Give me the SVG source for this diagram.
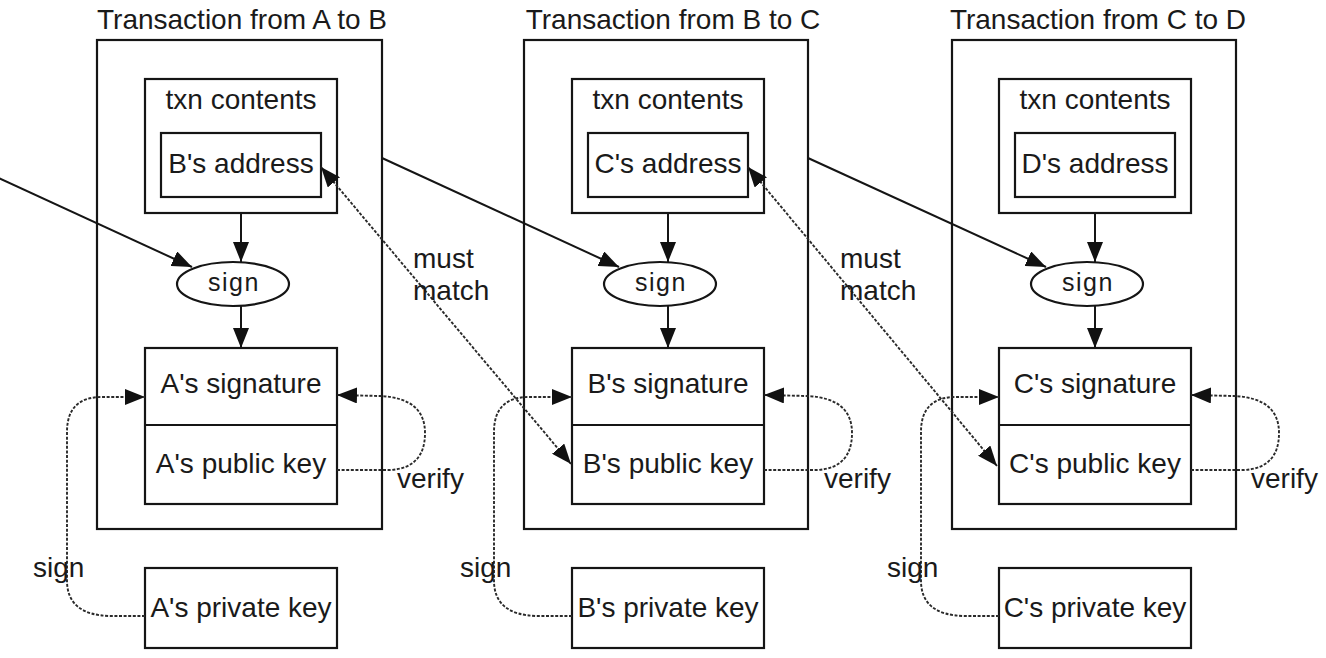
<svg xmlns="http://www.w3.org/2000/svg" width="1326" height="658" viewBox="0 0 1326 658">
<style>
.box{fill:none;stroke:#151515;stroke-width:2.2}
.fbox{fill:#fff;stroke:#151515;stroke-width:2.2}
.t{font-family:"Liberation Sans",Arial,sans-serif;font-size:28px;fill:#1a1a1a}
.m{text-anchor:middle}
.s{font-family:"Liberation Sans",Arial,sans-serif;font-size:25px;fill:#1a1a1a;letter-spacing:1.5px}
.solid{fill:none;stroke:#151515;stroke-width:2;marker-end:url(#ah)}
.dot{fill:none;stroke:#2a2a2a;stroke-width:1.9;stroke-dasharray:3 1.6;marker-end:url(#ah)}
.dot2{fill:none;stroke:#2a2a2a;stroke-width:1.9;stroke-dasharray:3 1.6;marker-end:url(#ah);marker-start:url(#ah)}
</style>
<defs>
<marker id="ah" markerUnits="userSpaceOnUse" markerWidth="20" markerHeight="16" viewBox="0 0 20 16" refX="20" refY="8" orient="auto-start-reverse">
<path d="M0,0 L20,8 L0,16 z" fill="#111"/>
</marker>
</defs>
<rect width="1326" height="658" fill="#fff"/>

<g id="titles">
<text class="t m" x="242" y="29">Transaction from A to B</text>
<text class="t m" x="673" y="29">Transaction from B to C</text>
<text class="t m" x="1098" y="29">Transaction from C to D</text>
</g>

<g id="col1">
<g id="tx-ab"><rect class="box" x="97" y="40" width="285" height="489"/></g>
<g id="txn-ab"><rect class="box" x="145" y="79" width="192" height="134"/><text class="t m" x="241" y="109">txn contents</text></g>
<g id="addr-b"><rect class="box" x="161" y="133" width="160" height="64"/><text class="t m" x="241" y="173">B's address</text></g>
<g id="sign-ab"><ellipse class="fbox" cx="233" cy="284" rx="56" ry="22"/><text class="s m" x="234" y="291">sign</text></g>
<g id="sig-a"><rect class="box" x="145" y="348" width="192" height="156"/><line x1="145" y1="425" x2="337" y2="425" stroke="#151515" stroke-width="2.2"/><text class="t m" x="241" y="393">A's signature</text><text class="t m" x="241" y="473">A's public key</text></g>
<g id="priv-a"><rect class="box" x="145" y="568" width="192" height="80"/><text class="t m" x="241" y="617">A's private key</text></g>
</g>

<g id="col2" transform="translate(427,0)">
<g id="tx-bc"><rect class="box" x="97" y="40" width="284" height="489"/></g>
<g id="txn-bc"><rect class="box" x="145" y="79" width="192" height="134"/><text class="t m" x="241" y="109">txn contents</text></g>
<g id="addr-c"><rect class="box" x="161" y="133" width="160" height="64"/><text class="t m" x="241" y="173">C's address</text></g>
<g id="sign-bc"><ellipse class="fbox" cx="233" cy="284" rx="56" ry="22"/><text class="s m" x="234" y="291">sign</text></g>
<g id="sig-b"><rect class="box" x="145" y="348" width="192" height="156"/><line x1="145" y1="425" x2="337" y2="425" stroke="#151515" stroke-width="2.2"/><text class="t m" x="241" y="393">B's signature</text><text class="t m" x="241" y="473">B's public key</text></g>
<g id="priv-b"><rect class="box" x="145" y="568" width="192" height="80"/><text class="t m" x="241" y="617">B's private key</text></g>
</g>

<g id="col3" transform="translate(854,0)">
<g id="tx-cd"><rect class="box" x="98" y="40" width="284" height="489"/></g>
<g id="txn-cd"><rect class="box" x="145" y="79" width="192" height="134"/><text class="t m" x="241" y="109">txn contents</text></g>
<g id="addr-d"><rect class="box" x="161" y="133" width="160" height="64"/><text class="t m" x="241" y="173">D's address</text></g>
<g id="sign-cd"><ellipse class="fbox" cx="233" cy="284" rx="56" ry="22"/><text class="s m" x="234" y="291">sign</text></g>
<g id="sig-c"><rect class="box" x="145" y="348" width="192" height="156"/><line x1="145" y1="425" x2="337" y2="425" stroke="#151515" stroke-width="2.2"/><text class="t m" x="241" y="393">C's signature</text><text class="t m" x="241" y="473">C's public key</text></g>
<g id="priv-c"><rect class="box" x="145" y="568" width="192" height="80"/><text class="t m" x="241" y="617">C's private key</text></g>
</g>

<g id="connectors">
<path class="solid" d="M-45,158 L192,267"/>
<path class="solid" d="M382,158 L619,267"/>
<path class="solid" d="M808,158 L1046,267"/>
<path class="dot2" d="M321,167 L571,464"/>
<path class="dot2" d="M748,167 L997,466"/>
<text class="t" x="413" y="268">must</text>
<text class="t" x="413" y="300">match</text>
<text class="t" x="840" y="268">must</text>
<text class="t" x="840" y="300">match</text>
<g id="c-col1">
<path class="solid" d="M241,213 V262"/>
<path class="solid" d="M241,306 V348"/>
<path class="dot" d="M145,616 H110 Q68,615 67,582 V432 Q67,397 102,397 H145"/>
<path class="dot" d="M337,470 H390 Q425,468 425,433 Q425,398 380,396 L337,395"/>
<text class="t" x="33" y="577">sign</text>
<text class="t" x="397" y="488">verify</text>
</g>
<g id="c-col2" transform="translate(427,0)">
<path class="solid" d="M241,213 V262"/>
<path class="solid" d="M241,306 V348"/>
<path class="dot" d="M145,616 H110 Q68,615 67,582 V432 Q67,397 102,397 H145"/>
<path class="dot" d="M337,470 H390 Q425,468 425,433 Q425,398 380,396 L337,395"/>
<text class="t" x="33" y="577">sign</text>
<text class="t" x="397" y="488">verify</text>
</g>
<g id="c-col3" transform="translate(854,0)">
<path class="solid" d="M241,213 V262"/>
<path class="solid" d="M241,306 V348"/>
<path class="dot" d="M145,616 H110 Q68,615 67,582 V432 Q67,397 102,397 H145"/>
<path class="dot" d="M337,470 H390 Q425,468 425,433 Q425,398 380,396 L337,395"/>
<text class="t" x="33" y="577">sign</text>
<text class="t" x="397" y="488">verify</text>
</g>
</g>
</svg>
